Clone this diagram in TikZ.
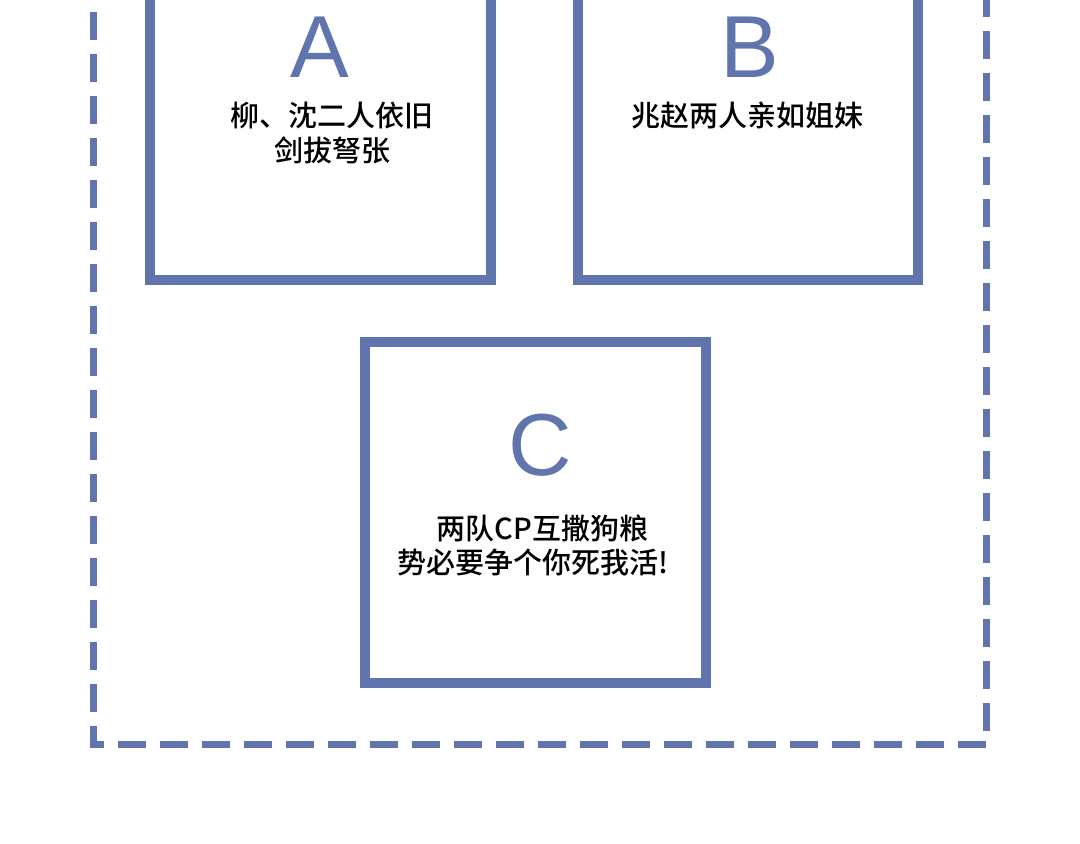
\documentclass[tikz,border=0pt]{standalone}
\usepackage{fontspec}
\setmainfont{Liberation Sans}
\newfontfamily\cjk{Noto Sans CJK SC Medium}
\definecolor{boxblue}{RGB}{96,117,173}

\begin{document}
\begin{tikzpicture}
[
  x=1pt,
  y=-1pt,
  panel/.style={draw=boxblue,line width=10pt,minimum width=341pt,minimum height=341pt,inner sep=0pt},
  letter/.style={text=boxblue,font=\fontsize{88}{88}\selectfont,anchor=base,inner sep=0pt},
  caption/.style={font=\cjk\fontsize{29}{35}\selectfont,align=center,inner sep=0pt}
]
\useasboundingbox (0,0) rectangle (1080,844);
\clip (0,0) rectangle (1080,844);

% Outer dashed frame
\draw[boxblue,line width=7pt,dash pattern=on 28pt off 14pt,dash phase=14pt] (93.5,-100) -- (93.5,744) -- (986.5,744) -- (986.5,-100);

% Panels
\node [panel] (boxA) at (320.5,109.5) {};
\node [panel,minimum width=340pt] (boxB) at (748,109.5) {};
\node [panel] (boxC) at (535,512.5) {};

% Letters
\node [letter] (letterA) at (320,77) {A};
\node [letter] (letterB) at (750,77) {B};
\node [letter] (letterC) at (540,475) {C};

% Captions
\node [caption] (textA) at (332,133.5) {柳、沈二人依旧\\剑拔弩张};
\node [caption] (textB) at (747.5,116) {兆赵两人亲如姐妹};
\node [caption,font=\cjk\fontsize{29}{34}\selectfont] (textC) at (533,545.5) {\hspace*{19pt}两队CP互撒狗粮\\势必要争个你死我活!};

\end{tikzpicture}
\end{document}
